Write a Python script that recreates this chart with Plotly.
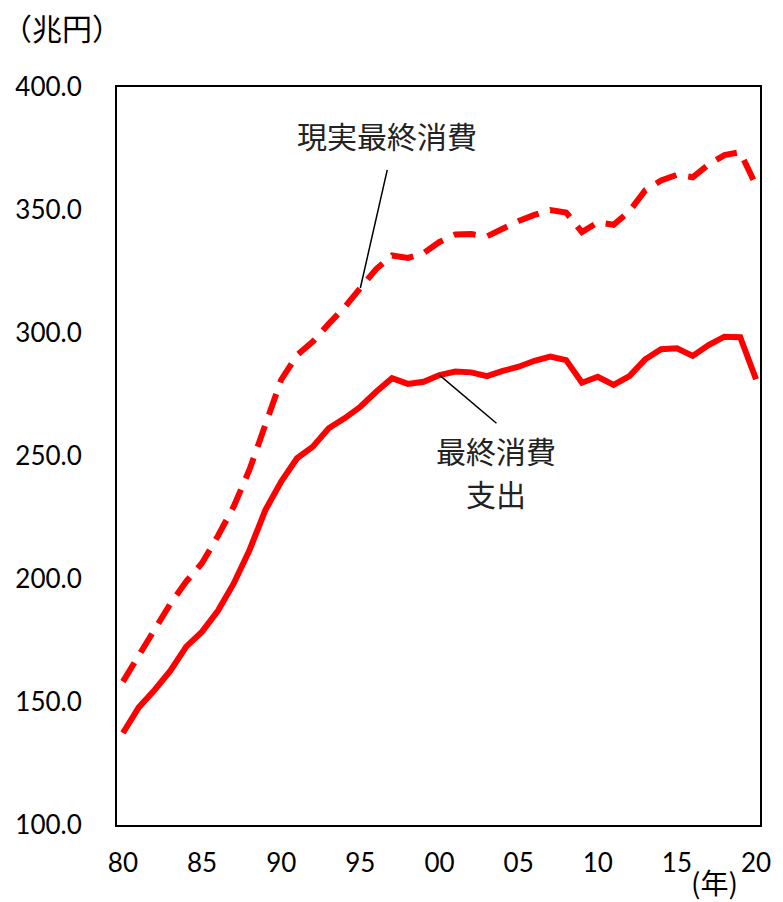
import plotly.graph_objects as go

# 年（1980〜2020）
years = list(range(1980, 2021))

# 最終消費支出（兆円）
final_consumption = [
    137.4, 147.8, 154.9, 162.7, 172.5, 178.6, 187.1, 198.2, 211.8, 228.0,
    239.6, 249.1, 253.8, 261.3, 265.3, 270.0, 276.1, 281.6, 279.3, 280.2,
    282.9, 284.3, 284.0, 282.5, 284.6, 286.3, 288.7, 290.4, 289.0, 279.8,
    282.2, 278.9, 282.5, 289.3, 293.4, 293.8, 290.7, 295.1, 298.5, 298.3,
    281.2,
]

# 現実最終消費（兆円）
actual_final_consumption = [
    158.3, 169.0, 180.0, 190.0, 199.0, 206.5, 217.5, 229.5, 244.5, 263.0,
    281.0, 291.0, 296.5, 303.7, 310.4, 318.3, 326.0, 331.5, 330.5, 332.5,
    337.0, 340.0, 340.2, 339.3, 342.5, 345.5, 348.0, 350.0, 349.0, 341.0,
    345.0, 344.0, 349.5, 358.0, 362.0, 364.3, 363.3, 368.5, 372.3, 373.5,
    360.0,
]

tick_years = list(range(1980, 2021, 5))
tick_text = ["80", "85", "90", "95", "00", "05", "10", "15", "20"]
y_ticks = [100, 150, 200, 250, 300, 350, 400]

RED = "#FF0000"
JP_FONT = "Noto Sans CJK JP"
NUM_FONT = "Lato"

fig = go.Figure()

fig.add_trace(go.Scatter(
    x=years, y=actual_final_consumption, mode="lines",
    line=dict(color=RED, width=6, dash="22px,12px"),
    name="現実最終消費", hoverinfo="skip", cliponaxis=False,
))
fig.add_trace(go.Scatter(
    x=years, y=final_consumption, mode="lines",
    line=dict(color=RED, width=6),
    name="最終消費支出", hoverinfo="skip", cliponaxis=False,
))

# 系列名のラベルと引き出し線
i95 = years.index(1995)
i00 = years.index(2000)
fig.add_shape(type="line", xref="x", yref="y",
              x0=1996.7, y0=366.3, x1=1995, y1=actual_final_consumption[i95],
              line=dict(color="black", width=1.5))
fig.add_shape(type="line", xref="x", yref="y",
              x0=2000, y0=final_consumption[i00], x1=2003.6, y1=263.3,
              line=dict(color="black", width=1.5))

label_font = dict(family=JP_FONT, size=30, color="#222222")
fig.add_annotation(x=1996.7, y=380.5, xref="x", yref="y", text="現実最終消費",
                   showarrow=False, font=label_font)
fig.add_annotation(x=2003.6, y=252.4, xref="x", yref="y", text="最終消費",
                   showarrow=False, font=label_font)
fig.add_annotation(x=2003.6, y=235.0, xref="x", yref="y", text="支出",
                   showarrow=False, font=label_font)

# 単位
fig.add_annotation(x=-0.085, y=1.081, xref="paper", yref="paper", text="（兆円）",
                   showarrow=False, xanchor="center", yanchor="middle",
                   font=dict(family=JP_FONT, size=30, color="black"))
fig.add_annotation(x=0.93, y=-0.077, xref="paper", yref="paper", text="(年)",
                   showarrow=False, xanchor="center", yanchor="middle",
                   font=dict(family=JP_FONT, size=28, color="black"))

fig.update_layout(
    width=783, height=902,
    margin=dict(l=117, r=16, t=87, b=77),
    paper_bgcolor="white", plot_bgcolor="white",
    showlegend=False,
)

fig.update_xaxes(
    range=[1979.625, 2020.25], tickvals=tick_years, ticktext=tick_text,
    showgrid=False, zeroline=False, ticks="",
    showline=True, linecolor="black", linewidth=2, mirror=True,
    tickfont=dict(family=NUM_FONT, size=26, color="black"),
    ticklabelstandoff=14,
)
fig.update_yaxes(
    range=[100, 400], tickvals=y_ticks,
    ticktext=[f"{v:.1f}" for v in y_ticks],
    showgrid=False, zeroline=False, ticks="",
    showline=True, linecolor="black", linewidth=2, mirror=True,
    tickfont=dict(family=NUM_FONT, size=26, color="black"),
    ticklabelstandoff=28,
)

fig.write_html("out.html")
